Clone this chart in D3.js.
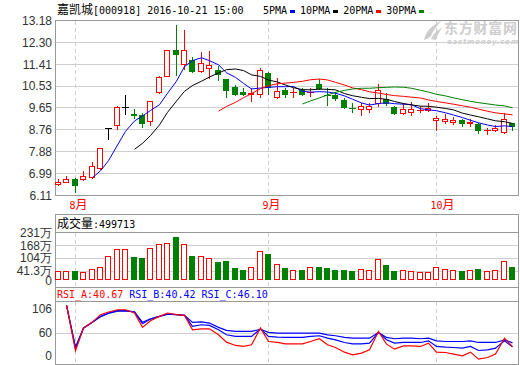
<!DOCTYPE html>
<html lang="zh">
<head>
<meta charset="UTF-8">
<title>嘉凯城 日K</title>
<script src="https://cdn.jsdelivr.net/npm/d3@7"></script>
<style>
  body { margin: 0; background: #fff; }
  svg { display: block; }
  .num { font-family: "Liberation Sans", Arial, sans-serif; font-size: 12px; fill: #333; }
</style>
</head>
<body>
<div id="chart"></div>
<script>
// trading days shown (2016)
var dates = ["07-28","07-29","08-01","08-02","08-03","08-04","08-05","08-08","08-09","08-10",
  "08-11","08-12","08-15","08-16","08-17","08-18","08-19","08-22","08-23","08-24",
  "08-25","08-26","08-29","08-30","08-31","09-01","09-02","09-05","09-06","09-07",
  "09-08","09-09","09-12","09-13","09-14","09-19","09-20","09-21","09-22","09-23",
  "09-26","09-27","09-28","09-29","09-30","10-10","10-11","10-12","10-13","10-14",
  "10-17","10-18","10-19","10-20","10-21"];

var opens = [6.56,6.66,6.78,6.77,6.86,7.23,8.82,8.94,9.68,9.40,
  9.35,9.11,10.30,10.92,11.99,11.41,11.59,11.13,11.25,11.18,
  10.81,10.50,10.30,10.23,10.23,11.04,10.08,10.37,10.28,10.39,
  10.28,10.61,10.17,10.17,9.96,9.66,9.60,9.59,9.83,10.00,
  9.68,9.46,9.49,9.55,9.56,9.15,9.14,9.09,9.15,9.02,
  8.99,8.74,8.75,8.67,9.02];
var highs = [6.79,6.88,6.82,7.12,7.46,8.02,8.82,9.72,10.15,9.62,
  9.46,9.92,10.94,11.97,13.01,12.80,11.72,11.90,11.95,11.36,
  10.81,10.56,10.44,10.46,11.25,11.11,10.84,10.44,10.44,10.46,
  10.47,10.80,10.47,10.30,10.03,9.83,9.83,9.83,10.61,10.27,
  9.72,9.83,9.87,9.72,9.83,9.34,9.40,9.29,9.22,9.19,
  9.02,8.85,8.95,9.46,9.02];
var lows = [6.53,6.65,6.27,6.74,6.82,7.20,8.41,8.81,9.42,9.26,
  8.88,8.95,10.26,10.92,10.98,11.21,11.10,11.11,10.84,10.77,
  10.07,10.15,10.15,9.94,10.10,10.21,10.03,10.10,10.10,10.16,
  10.14,10.42,9.76,9.96,9.65,9.49,9.38,9.49,9.74,9.76,
  9.40,9.40,9.37,9.49,9.53,8.77,9.02,8.99,8.92,8.91,
  8.64,8.61,8.72,8.64,8.77];
var closes = [6.65,6.78,6.54,6.91,7.29,8.02,8.82,9.70,9.68,9.38,
  9.04,9.92,10.88,11.97,11.84,11.98,11.13,11.45,11.38,11.01,
  10.37,10.21,10.23,10.25,11.20,10.50,10.35,10.23,10.30,10.23,
  10.31,10.46,10.15,10.06,9.69,9.64,9.71,9.72,10.36,9.85,
  9.45,9.62,9.60,9.56,9.64,9.25,9.21,9.15,9.04,9.09,
  8.75,8.76,8.84,9.19,8.91];

// volume in 万
var volumes = [38,38,38,37,50,60,116,151,151,107,
  102,156,172,181,207,176,112,116,105,82,
  87,57,47,60,141,124,77,57,47,47,
  60,62,57,47,47,42,50,47,97,72,
  42,45,42,37,37,60,50,45,42,45,
  52,40,45,90,60];

var rsiA = [null,100,34.6,67.2,75.8,86.4,90.2,93.5,93.5,88.8,
  68.2,77.7,84,88.8,86.4,85.4,64.8,66.2,66.2,57.6,
  47.1,42.3,40.9,43.3,67.2,48,46.6,44.7,44.7,44.7,
  48,51.9,43.3,39.4,32.7,28.9,31.3,36.1,62.4,44.2,
  37,41.8,41.8,40.9,45.7,32.7,32.2,29.9,27.5,32.7,
  22.7,25.1,29.9,52.8,40.67];
var rsiB = [null,100,38,67.5,76,84,88.8,92.1,92.1,90.2,
  73.5,80.1,84,87.3,86.4,85.4,69.6,72,71,64.8,
  57.6,55.2,55.2,55.2,65.9,55.2,54.3,53.8,53.8,53.8,
  55.2,56.2,52.8,50.4,46.6,44.7,44.7,45.7,61,50.4,
  45.7,46.6,46.6,46.6,49,40.9,39.9,39.4,38.5,40.9,
  35.1,36.1,38.5,49,40.42];
var rsiC = [null,100,40,67,75.5,83.5,88.2,91.5,91.8,90.5,
  75.5,80.5,84,87,86.4,85.6,75.4,76,74.4,68.2,
  63.9,62.4,62.4,62.4,65.5,61,60,60,60,60,
  60,60,57.6,56.2,53.8,52.8,52.8,52.8,61,53.8,
  51.9,52.8,52.8,51.9,52.8,49,48,48,48,49,
  46.6,46.6,46.6,50.4,46.10];

var priceTicks = [6.11,6.99,7.88,8.76,9.65,10.53,11.41,12.30,13.18];
var volTicks = [0,41.3,104,168,231];
var volTickLabels = ["0","41.3万","104万","168万","231万"];
var rsiTicks = [0,60,106];

var maPeriods = [5,10,20,30];
var maNames = ["5PMA","10PMA","20PMA","30PMA"];
var maColors = ["#0000ff","#000000","#ff0000","#008000"];

var RED = "#ff0000", GREEN = "#008000";
var BORDER = "#999", GRID = "#cfcfcf";
var L = 55.5, R = 518.5;

var svg = d3.select("#chart").append("svg")
  .attr("width", 520).attr("height", 365);

var x = d3.scaleBand().domain(d3.range(closes.length)).range([55, 515]).paddingInner(0.3);
function cx(i) { return Math.round(x(i) + x.bandwidth() / 2) + 0.5; }

// mixed text: ascii in mono 10px, CJK in 12px
function addRuns(t, str, color) {
  str.split(/([\u4e00-\u9fff]+)/).forEach(function(s) {
    if (!s) return;
    var cjk = /[\u4e00-\u9fff]/.test(s);
    t.append("tspan")
      .attr("font-family", cjk ? "'Noto Sans CJK SC', sans-serif" : "'DejaVu Sans Mono', monospace")
      .attr("font-size", cjk ? 12 : 10)
      .attr("fill", color)
      .text(s);
  });
  return t;
}

// header + legend
addRuns(svg.append("text").attr("x", 57).attr("y", 14), "嘉凯城[000918] 2016-10-21 15:00", "#000");
var lx = 263;
maNames.forEach(function(n, k) {
  addRuns(svg.append("text").attr("x", lx).attr("y", 14), n, "#000");
  lx += n.length * 6.02 + 3;
  svg.append("rect").attr("x", Math.round(lx)).attr("y", 10).attr("width", 5).attr("height", 3)
    .attr("fill", maColors[k]);
  lx += 10;
});

// watermark
var wm = svg.append("g").attr("fill", "#cdcdcd");
wm.append("path").attr("d", "M424,40 C426,31 432,25 441,21 C436,27 433,31 431,36 C429,38 427,39 424,40 Z");
wm.append("path").attr("d", "M431,39 C434,33 437,30 442,28 C439,32 437,36 436,40 Z");
wm.append("text").attr("x", 444).attr("y", 33)
  .attr("font-family", "'Noto Sans CJK SC', sans-serif").attr("font-weight", "bold")
  .attr("font-size", 14).attr("textLength", 73).text("东方财富网");
wm.append("text").attr("x", 447).attr("y", 44)
  .attr("font-family", "'DejaVu Sans', sans-serif").attr("font-weight", "bold").attr("font-style", "italic")
  .attr("font-size", 7).attr("textLength", 71).text("eastmoney.com");

var monthIdx = [];
dates.forEach(function(d, i) {
  if (i > 0 && d.slice(0, 2) !== dates[i - 1].slice(0, 2)) monthIdx.push(i);
});

// ---------- price panel ----------
var y = d3.scaleLinear().domain([6.11, 13.18]).range([195.5, 20.5]);
var main = svg.append("g");

main.selectAll("line.grid").data(priceTicks.slice(1, -1)).enter().append("line")
  .attr("x1", L).attr("x2", R)
  .attr("y1", function(d) { return Math.round(y(d) - 0.5) + 0.5; })
  .attr("y2", function(d) { return Math.round(y(d) - 0.5) + 0.5; })
  .attr("stroke", GRID);

main.selectAll("line.month").data(monthIdx).enter().append("line")
  .attr("x1", cx).attr("x2", cx).attr("y1", 21).attr("y2", 195)
  .attr("stroke", GRID).attr("stroke-dasharray", "4,3");

main.append("rect").attr("x", L).attr("y", 20.5).attr("width", R - L).attr("height", 175)
  .attr("fill", "none").attr("stroke", BORDER);

main.selectAll("text.tick").data(priceTicks).enter().append("text")
  .attr("class", "num").attr("x", 52).attr("y", y).attr("dy", "0.36em")
  .attr("text-anchor", "end").text(function(d) { return d.toFixed(2); });

function candleColor(i) {
  return closes[i] > opens[i] ? RED : closes[i] < opens[i] ? GREEN : "#000";
}

var candles = main.append("g").attr("shape-rendering", "crispEdges");
d3.range(closes.length).forEach(function(i) {
  var c = candleColor(i), xc = cx(i);
  var top = Math.round(y(Math.max(opens[i], closes[i])));
  var bot = Math.round(y(Math.min(opens[i], closes[i])));
  candles.append("line").attr("x1", xc).attr("x2", xc)
    .attr("y1", Math.round(y(highs[i]))).attr("y2", Math.round(y(lows[i])) + 1)
    .attr("stroke", c);
  if (bot - top < 1) {
    candles.append("line").attr("x1", xc - 3.5).attr("x2", xc + 3.5)
      .attr("y1", top + 0.5).attr("y2", top + 0.5).attr("stroke", c);
  } else {
    candles.append("rect").attr("x", xc - 3).attr("y", top + 0.5)
      .attr("width", 5).attr("height", bot - top)
      .attr("fill", c === RED ? "#fff" : c).attr("stroke", c);
  }
});

maPeriods.forEach(function(n, k) {
  var ma = closes.map(function(c, i) {
    return i < n - 1 ? null : d3.mean(closes.slice(i - n + 1, i + 1));
  });
  main.append("path").datum(ma)
    .attr("fill", "none").attr("stroke", maColors[k]).attr("stroke-width", 1)
    .attr("d", d3.line().defined(function(d) { return d !== null; })
      .x(function(d, i) { return cx(i); }).y(function(d) { return y(d); }));
});

// month labels
monthIdx.forEach(function(i) {
  addRuns(svg.append("text").attr("x", cx(i) - 6).attr("y", 209),
    parseInt(dates[i].slice(0, 2), 10) + "月", RED);
});

// ---------- volume panel ----------
var vy = d3.scaleLinear().domain([0, 231]).range([279, 232.5]);
var vol = svg.append("g");
vol.selectAll("line.grid").data(volTicks.slice(1, -1)).enter().append("line")
  .attr("x1", L).attr("x2", R)
  .attr("y1", function(d) { return Math.round(vy(d)) + 0.5; })
  .attr("y2", function(d) { return Math.round(vy(d)) + 0.5; })
  .attr("stroke", GRID);
vol.selectAll("line.month").data(monthIdx).enter().append("line")
  .attr("x1", cx).attr("x2", cx).attr("y1", 233).attr("y2", 287)
  .attr("stroke", GRID).attr("stroke-dasharray", "4,3");
vol.append("rect").attr("x", L).attr("y", 214.5).attr("width", R - L).attr("height", 73)
  .attr("fill", "none").attr("stroke", BORDER);
vol.append("line").attr("x1", L).attr("x2", R).attr("y1", 232.5).attr("y2", 232.5).attr("stroke", BORDER);
addRuns(vol.append("text").attr("x", 57).attr("y", 227.5), "成交量:499713", "#000");
vol.selectAll("text.tick").data(volTicks).enter().append("text")
  .attr("class", "num").attr("x", 52)
  .attr("y", function(d) { return d === 0 ? vy(d) + 2 : vy(d); })
  .attr("dy", "0.36em").attr("text-anchor", "end")
  .text(function(d, k) { return volTickLabels[k]; });

var bars = vol.append("g").attr("shape-rendering", "crispEdges");
volumes.forEach(function(v, i) {
  var up = closes[i] >= opens[i];
  var top = Math.round(vy(v));
  bars.append("rect").attr("x", cx(i) - 3).attr("y", top + 0.5)
    .attr("width", 5).attr("height", 279 - top)
    .attr("fill", up ? "#fff" : GREEN).attr("stroke", up ? RED : GREEN);
});

// ---------- RSI panel ----------
var ry = d3.scaleLinear().domain([0, 106]).range([375, 301]);
var rsi = svg.append("g");
rsi.append("line").attr("x1", L).attr("x2", R)
  .attr("y1", Math.round(ry(60)) + 0.5).attr("y2", Math.round(ry(60)) + 0.5).attr("stroke", GRID);
rsi.selectAll("line.month").data(monthIdx).enter().append("line")
  .attr("x1", cx).attr("x2", cx).attr("y1", 302).attr("y2", 364)
  .attr("stroke", GRID).attr("stroke-dasharray", "4,3");
rsi.append("rect").attr("x", L).attr("y", 287.5).attr("width", R - L).attr("height", 77)
  .attr("fill", "none").attr("stroke", BORDER);
rsi.append("line").attr("x1", L).attr("x2", R).attr("y1", 301.5).attr("y2", 301.5).attr("stroke", BORDER);

rsi.selectAll("text.tick").data(rsiTicks).enter().append("text")
  .attr("class", "num").attr("x", 52)
  .attr("y", function(d) { return Math.max(309, Math.min(356, ry(d))); })
  .attr("dy", "0.36em").attr("text-anchor", "end").text(function(d) { return d; });

var rt = rsi.append("text").attr("x", 57).attr("y", 297.5);
addRuns(rt, "RSI_A:" + rsiA[rsiA.length - 1].toFixed(2) + " ", RED);
addRuns(rt, "RSI_B:" + rsiB[rsiB.length - 1].toFixed(2) + " ", "#0000ff");
addRuns(rt, "RSI_C:" + rsiC[rsiC.length - 1].toFixed(2), "#0000ff");

var rline = d3.line().defined(function(d) { return d !== null; })
  .x(function(d, i) { return cx(i); }).y(function(d) { return ry(d); });
[[rsiC, "#0000ff"], [rsiB, "#0000ff"], [rsiA, RED]].forEach(function(s) {
  rsi.append("path").datum(s[0]).attr("fill", "none")
    .attr("stroke", s[1]).attr("stroke-width", 1.2).attr("d", rline);
});
</script>
</body>
</html>
